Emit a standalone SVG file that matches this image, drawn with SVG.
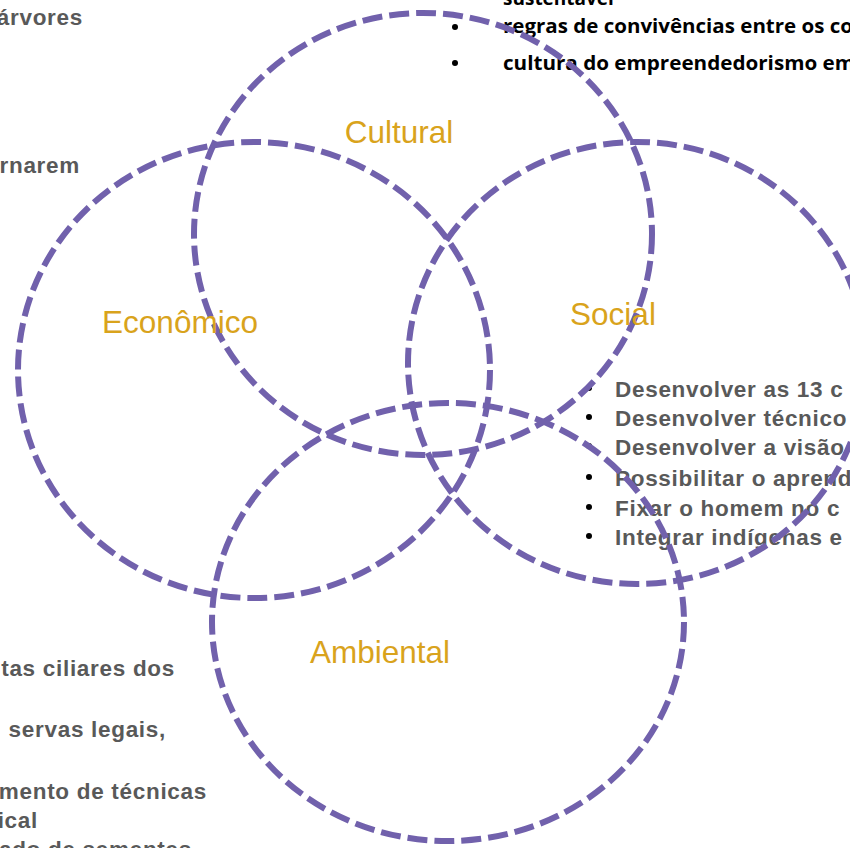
<svg xmlns="http://www.w3.org/2000/svg" width="850" height="848" viewBox="0 0 850 848">
<style>
.ring{fill:none;stroke:#7161AC;stroke-width:6;stroke-dasharray:20 7}
.lbl{font-family:"Liberation Sans",Arial,sans-serif;font-size:31.5px;fill:#D9A31C}
.g{font-family:"Liberation Sans",Arial,sans-serif;font-size:22.5px;font-weight:bold;fill:#595959;letter-spacing:0.7px}
.k{font-family:"Open Sans","Noto Sans",sans-serif;font-size:19px;font-weight:bold;fill:#000}
.b{fill:#000}
</style>
<rect width="850" height="848" fill="#fff"/>
<g id="texts">
<text class="k" x="503" y="5">sustentável</text>
<circle class="b" cx="455" cy="27" r="3"/>
<text class="k" x="503" y="33" textLength="350" lengthAdjust="spacingAndGlyphs">regras de convivências entre os co</text>
<circle class="b" cx="455" cy="63" r="3"/>
<text class="k" x="503" y="70" textLength="352" lengthAdjust="spacingAndGlyphs">cultura do empreendedorismo em</text>
<text class="g" x="83" y="25" text-anchor="end">árvores</text>
<text class="g" x="80" y="173" text-anchor="end">rnarem</text>
<g class="g">
<circle class="b" cx="589" cy="388" r="3"/><text x="615" y="397">Desenvolver as 13 c</text>
<circle class="b" cx="589" cy="417" r="3"/><text x="615" y="426">Desenvolver técnico</text>
<circle class="b" cx="589" cy="446" r="3"/><text x="615" y="455">Desenvolver a visão</text>
<circle class="b" cx="589" cy="477" r="3"/><text x="615" y="486">Possibilitar o aprend</text>
<circle class="b" cx="589" cy="507" r="3"/><text x="615" y="516">Fixar o homem no c</text>
<circle class="b" cx="589" cy="536" r="3"/><text x="615" y="545">Integrar indígenas e</text>
</g>
<text class="g" x="175" y="676" text-anchor="end">tas ciliares dos</text>
<text class="g" x="166" y="737" text-anchor="end">servas legais,</text>
<text class="g" x="207" y="799" text-anchor="end">mento de técnicas</text>
<text class="g" x="38" y="828" text-anchor="end">ical</text>
<text class="g" x="192" y="857" text-anchor="end">ado de sementes</text>
</g>
<g id="connectors"></g>
<g id="cultural"><ellipse class="ring" cx="423" cy="234" rx="229" ry="221"/><text class="lbl" x="399" y="143" text-anchor="middle">Cultural</text></g>
<g id="economico"><ellipse class="ring" cx="254" cy="370" rx="236" ry="228"/><text class="lbl" x="180" y="333" text-anchor="middle">Econômico</text></g>
<g id="social"><ellipse class="ring" cx="637" cy="363" rx="229" ry="221"/><text class="lbl" x="613" y="325" text-anchor="middle">Social</text></g>
<g id="ambiental"><ellipse class="ring" cx="448" cy="622" rx="236" ry="219"/><text class="lbl" x="380" y="663" text-anchor="middle">Ambiental</text></g>
</svg>
